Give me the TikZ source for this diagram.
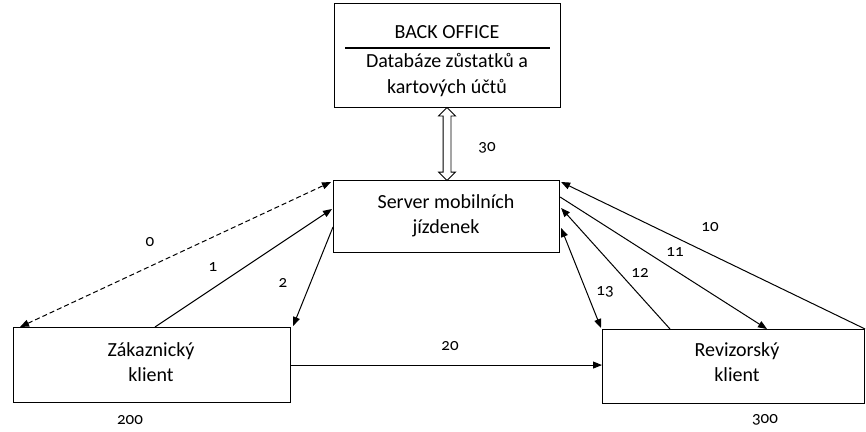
\documentclass[tikz,border=0pt]{standalone}
\usepackage{fontspec}
\setmainfont{Carlito}[Numbers=OldStyle]
\usetikzlibrary{arrows.meta,calc,shapes.arrows}
\begin{document}
\begin{tikzpicture}[x=1pt,y=-1pt,
  box/.style={draw,line width=1.1pt,rectangle,inner sep=0pt,anchor=north west},
  txt/.style={align=center,font=\fontsize{20}{25.5}\selectfont,inner sep=0pt},
  lbl/.style={font=\fontsize{17}{19}\selectfont,inner sep=0pt},
  con/.style={line width=1pt,-{Triangle[length=9pt,width=7pt]}},
  con2/.style={line width=1pt,{Triangle[length=9pt,width=7pt]}-{Triangle[length=9pt,width=7pt]}}]
\useasboundingbox (0,0) rectangle (866,431);
% boxes
\node[box,minimum width=226pt,minimum height=104pt] (bo) at (334,3) {};
\node[txt] (botitle) at (447,32) {BACK OFFICE};
\node[txt] (bodesc) at (447,75) {Databáze zůstatků a\\kartových účtů};
\draw[line width=1.1pt] ($(bo.north west)+(11,45)$) -- ($(bo.north east)+(-11,45)$);
\node[box,minimum width=226pt,minimum height=72pt] (srv) at (333,180) {};
\node[txt] (srvt) at (446,216) {Server mobilních\\jízdenek};
\node[box,minimum width=277pt,minimum height=75pt] (zak) at (13,327) {};
\node[txt] (zakt) at (151,362) {Zákaznický\\klient};
\node[box,minimum width=262pt,minimum height=74pt] (rev) at (602,329) {};
\node[txt] (revt) at (737,362) {Revizorský\\klient};
% double arrow 30
\node[draw,line width=0.9pt,double arrow,rotate=90,minimum height=73pt,inner sep=3.5pt,
  double arrow head extend=4.5pt,double arrow head indent=0pt]
  (dbl) at ($(bo.south)!0.5!(srv.north)$) {};
% connectors
\draw[con2,dashed,dash pattern=on 5pt off 3pt] ($(zak.north west)+(7,0)$) -- ($(srv.north west)+(-2,2)$);
\draw[con] ($(zak.north west)+(142,0)$) -- ($(srv.north west)+(-1,29)$);
\draw[con] ($(srv.north west)+(0,47)$) -- ($(zak.north east)+(2,-1)$);
\draw[con] (zak.east) -- (rev.west |- zak.east);
\draw[con] (rev.north east) -- ($(srv.north east)+(1,2)$);
\draw[con] ($(srv.north east)+(0,17)$) -- ($(rev.north west)+(165,0)$);
\draw[con] ($(rev.north west)+(68,0)$) -- ($(srv.north east)+(1,28)$);
\draw[con2] ($(srv.north east)+(1,48)$) -- ($(rev.north west)+(-1,-1)$);
% labels
\node[lbl] (l0) at (150,242) {0};
\node[lbl] (l1) at (213,267) {1};
\node[lbl] (l2) at (283,283) {2};
\node[lbl] (l10) at (710,227) {10};
\node[lbl] (l11) at (675,252) {11};
\node[lbl] (l12) at (640,273) {12};
\node[lbl] (l13) at (605,292) {13};
\node[lbl] (l20) at (450,346) {20};
\node[lbl] (l30) at (487,148) {30};
\node[lbl] (l200) at (130,420) {200};
\node[lbl] (l300) at (765,420) {300};
\end{tikzpicture}
\end{document}
